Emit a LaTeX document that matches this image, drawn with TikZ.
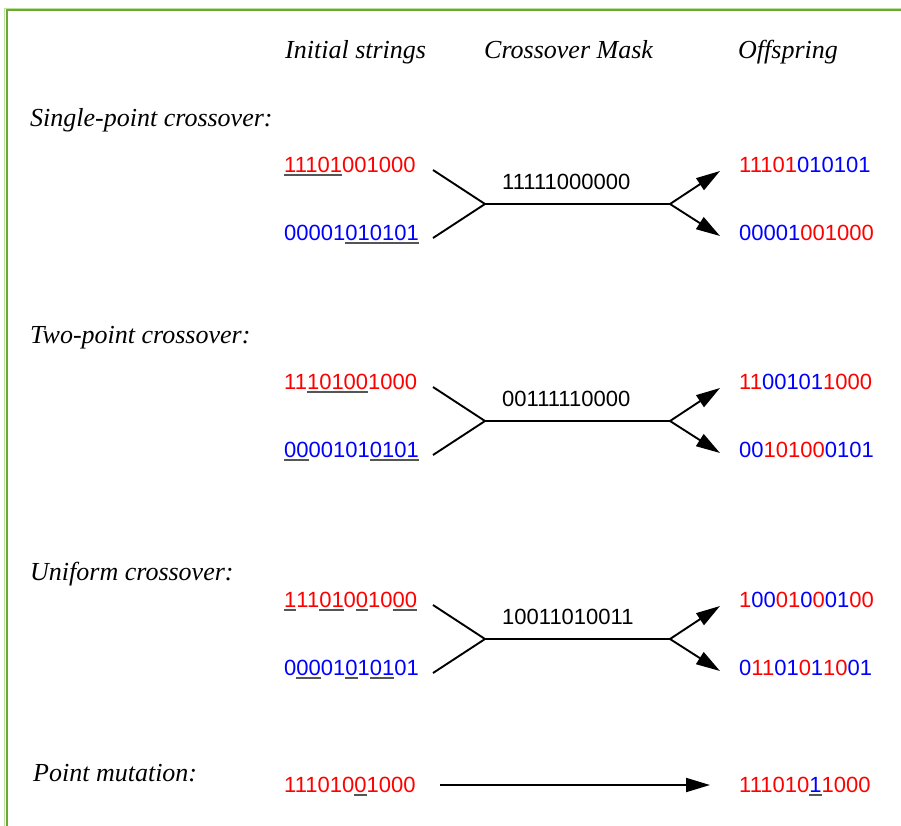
\documentclass[tikz,border=0pt]{standalone}
\usepackage{fontspec}
\setmainfont{Liberation Serif}
\newfontfamily\bitfont{Liberation Sans}
\usetikzlibrary{arrows.meta}
\definecolor{ulgray}{RGB}{85,85,85}
\definecolor{framedark}{RGB}{108,168,52}
\definecolor{framelight}{RGB}{190,225,160}
\newcommand\R[1]{\textcolor{red}{#1}}
\newcommand\B[1]{\textcolor{blue}{#1}}
\newsavebox\ulbox
\newcommand\ulx[1]{\sbox\ulbox{#1}\rlap{\textcolor{ulgray}{\rule[-3.2pt]{\wd\ulbox}{1.4pt}}}\usebox\ulbox}
\begin{document}
\begin{tikzpicture}[x=1pt,y=-1pt,
  bits/.style={font=\bitfont\fontsize{22}{26}\selectfont, inner sep=0pt, anchor=base west},
  title/.style={font=\itshape\fontsize{26}{30}\selectfont, inner sep=0pt, anchor=base west},
  conn/.style={line width=1.9pt, black},
  arr/.style={conn, -{Triangle[length=24pt,width=14pt]}}]
\useasboundingbox (0,0) rectangle (901,825);
\fill[white] (0,0) rectangle (901,825);
% frame
\draw[framelight, line width=1pt] (930,8) -- (4.5,8) -- (4.5,840);
\draw[framedark, line width=2pt] (930,10) -- (6.5,10) -- (6.5,840);
% headers
\node[title] (h1) at (285,58) {Initial strings};
\node[title] (h2) at (484,58) {Crossover Mask};
\node[title] (h3) at (738,58) {Offspring};
% section titles
\node[title] (t1) at (30,126) {Single-point crossover:};
\node[title] (t2) at (30,343) {Two-point crossover:};
\node[title] (t3) at (30,580) {Uniform crossover:};
\node[title] (t4) at (33,781) {Point mutation:};
% ---------- single-point
\node[bits] (sp1) at (284,172.5) {\R{\ulx{11101}001000}};
\node[bits] (sp2) at (284,240.5) {\B{00001\ulx{010101}}};
\node[bits] (sm) at (502,189.5) {11111000000};
\node[bits] (so1) at (739,172.5) {\R{11101}\B{010101}};
\node[bits] (so2) at (739,240.5) {\B{00001}\R{001000}};
\coordinate (sa1) at (433,170);
\coordinate (sa2) at (433,238);
\coordinate (sj) at (485,204);
\coordinate (sk) at (670,204);
\coordinate (sb1) at (720,171);
\coordinate (sb2) at (720,236);
\draw[conn] (sa1) -- (sj);
\draw[conn] (sa2) -- (sj);
\draw[conn] (sj) -- (sk);
\draw[arr] (sk) -- (sb1);
\draw[arr] (sk) -- (sb2);
% ---------- two-point
\node[bits] (tp1) at (284,389.5) {\R{11\ulx{10100}1000}};
\node[bits] (tp2) at (284,457.5) {\B{\ulx{00}00101\ulx{0101}}};
\node[bits] (tm) at (502,406.5) {00111110000};
\node[bits] (to1) at (739,389.5) {\R{11}\B{00101}\R{1000}};
\node[bits] (to2) at (739,457.5) {\B{00}\R{10100}\B{0101}};
\coordinate (ta1) at (433,387);
\coordinate (ta2) at (433,455);
\coordinate (tj) at (485,421);
\coordinate (tk) at (670,421);
\coordinate (tb1) at (720,388);
\coordinate (tb2) at (720,453);
\draw[conn] (ta1) -- (tj);
\draw[conn] (ta2) -- (tj);
\draw[conn] (tj) -- (tk);
\draw[arr] (tk) -- (tb1);
\draw[arr] (tk) -- (tb2);
% ---------- uniform
\node[bits] (up1) at (284,607.5) {\R{\ulx{1}11\ulx{01}0\ulx{0}10\ulx{00}}};
\node[bits] (up2) at (284,675.5) {\B{0\ulx{00}01\ulx{0}1\ulx{01}01}};
\node[bits] (um) at (502,624.5) {10011010011};
\node[bits] (uo1) at (739,607.5) {\R{1}\B{00}\R{01}\B{0}\R{0}\B{01}\R{00}};
\node[bits] (uo2) at (739,675.5) {\B{0}\R{11}\B{01}\R{0}\B{1}\R{10}\B{01}};
\coordinate (ua1) at (433,605);
\coordinate (ua2) at (433,673);
\coordinate (uj) at (485,639);
\coordinate (uk) at (670,639);
\coordinate (ub1) at (720,606);
\coordinate (ub2) at (720,671);
\draw[conn] (ua1) -- (uj);
\draw[conn] (ua2) -- (uj);
\draw[conn] (uj) -- (uk);
\draw[arr] (uk) -- (ub1);
\draw[arr] (uk) -- (ub2);
% ---------- mutation
\node[bits] (mp) at (284,792.5) {\R{111010\ulx{0}1000}};
\node[bits] (mo) at (739,792.5) {\R{111010}\ulx{\B{1}}\R{1000}};
\coordinate (ma) at (440,785);
\coordinate (mb) at (710,785);
\draw[arr] (ma) -- (mb);
\end{tikzpicture}
\end{document}
